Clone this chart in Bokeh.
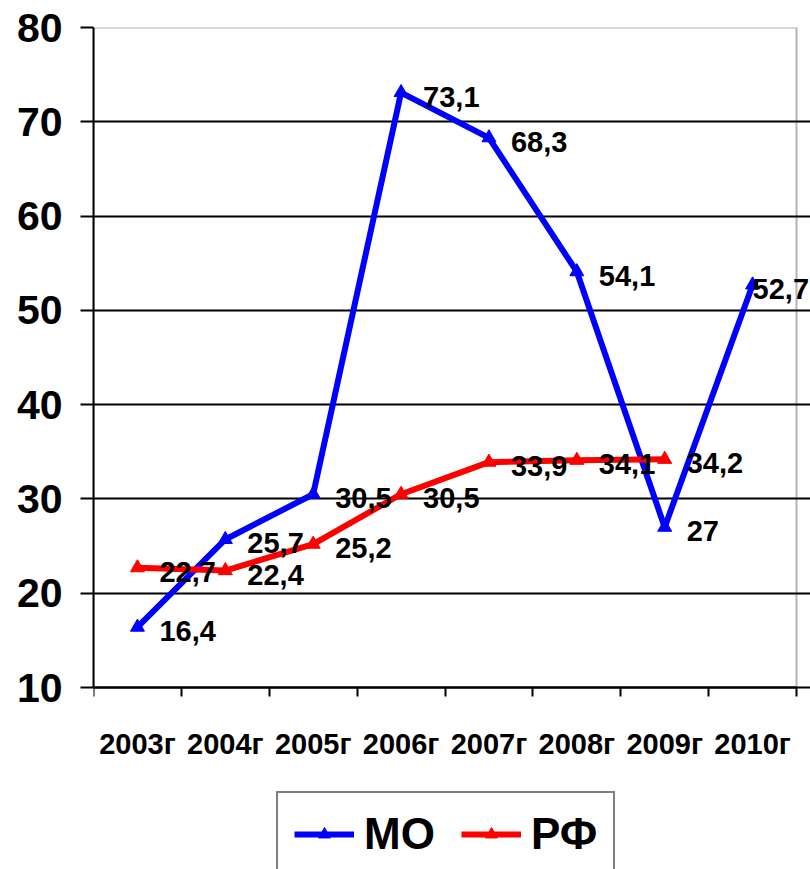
from bokeh.plotting import figure
from bokeh.models import (ColumnDataSource, FixedTicker, Range1d, Legend, LegendItem,
                          LinearAxis, BoxAnnotation)
from bokeh.core.properties import value
from bokeh.embed import file_html
from bokeh.resources import INLINE

years = ["2003г", "2004г", "2005г", "2006г", "2007г", "2008г", "2009г", "2010г"]
mo_values = [16.4, 25.7, 30.5, 73.1, 68.3, 54.1, 27, 52.7]
rf_values = [22.7, 22.4, 25.2, 30.5, 33.9, 34.1, 34.2]
y_ticks = [10, 20, 30, 40, 50, 60, 70, 80]

BLUE = "#0000ff"
RED = "#ff0000"
FONT = "Liberation Sans"

def fmt(v):
    return f"{v:g}".replace(".", ",")

centers = [i + 0.5 for i in range(len(years))]
bounds = list(range(len(years) + 1))
ppu_x = 703 / len(years)                      # pixels per category
ppu_y = 660 / (y_ticks[-1] - y_ticks[0])      # pixels per unit
bottom_space = 182                            # room below the plot area for labels + legend

p = figure(width=810, height=869, output_backend="svg", toolbar_location=None,
           x_axis_location=None,
           x_range=Range1d(0, len(years) + 14 / ppu_x),
           y_range=Range1d(y_ticks[0] - bottom_space / ppu_y, y_ticks[-1]),
           min_border_left=93, min_border_right=0, min_border_top=27, min_border_bottom=0)
p.outline_line_color = None
p.background_fill_color = "white"
p.border_fill_color = "white"

# x axis fixed at the bottom of the plot area
xa = LinearAxis(fixed_location=y_ticks[0])
xa.ticker = FixedTicker(ticks=centers, minor_ticks=bounds)
xa.major_label_overrides = {c: y for c, y in zip(centers, years)}
xa.bounds = (0, len(years))
xa.axis_line_color = "black"
xa.axis_line_width = 2
xa.major_tick_line_color = None
xa.major_tick_out = 0
xa.major_tick_in = 0
xa.minor_tick_line_color = "black"
xa.minor_tick_line_width = 2
xa.minor_tick_out = 9
xa.minor_tick_in = 0
xa.major_label_standoff = 31
xa.major_label_text_font = FONT
xa.major_label_text_font_style = "bold"
xa.major_label_text_font_size = "29px"
xa.major_label_text_color = "black"
p.add_layout(xa, "below")

ya = p.yaxis[0]
ya.ticker = FixedTicker(ticks=y_ticks, minor_ticks=[])
ya.bounds = (y_ticks[0], y_ticks[-1])
ya.axis_line_color = "black"
ya.axis_line_width = 2
ya.major_tick_line_color = "black"
ya.major_tick_line_width = 2
ya.major_tick_out = 13
ya.major_tick_in = 0
ya.minor_tick_line_color = None
ya.major_label_standoff = 18
ya.major_label_text_font = FONT
ya.major_label_text_font_style = "bold"
ya.major_label_text_font_size = "41px"
ya.major_label_text_color = "black"

p.xgrid.grid_line_color = None
p.ygrid.ticker = FixedTicker(ticks=y_ticks)
p.ygrid.grid_line_color = "black"
p.ygrid.grid_line_width = 2

# plot-area border (right edge)
p.add_layout(BoxAnnotation(left=0, right=len(years), bottom=y_ticks[0], top=y_ticks[-1],
                           fill_alpha=0, line_color="black", line_width=2))

# series
mo_src = ColumnDataSource(dict(x=centers, y=mo_values,
                               t=[fmt(v) for v in mo_values],
                               dx=[22] * (len(mo_values) - 1) + [0],
                               dy=[4] * len(mo_values)))
rf_src = ColumnDataSource(dict(x=centers[:len(rf_values)], y=rf_values,
                               t=[fmt(v) for v in rf_values],
                               dx=[22] * len(rf_values),
                               dy=[4] * len(rf_values)))

mo_line = p.line("x", "y", source=mo_src, line_color=BLUE, line_width=6, line_join="round")
mo_pts = p.scatter("x", "y", source=mo_src, marker="triangle", size=14,
                   fill_color=BLUE, line_color=BLUE)
rf_line = p.line("x", "y", source=rf_src, line_color=RED, line_width=6, line_join="round")
rf_pts = p.scatter("x", "y", source=rf_src, marker="triangle", size=14,
                   fill_color=RED, line_color=RED)

for src in (mo_src, rf_src):
    p.text("x", "y", text="t", source=src, x_offset="dx", y_offset="dy",
           text_align="left", text_baseline="middle",
           text_font=value(FONT), text_font_style="bold",
           text_font_size="29px", text_color="black")

legend = Legend(items=[LegendItem(label="МО", renderers=[mo_line, mo_pts]),
                       LegendItem(label="РФ", renderers=[rf_line, rf_pts])],
                orientation="horizontal", location=(183, -8),
                label_text_font=FONT, label_text_font_style="bold",
                label_text_font_size="44px", label_text_color="black",
                glyph_width=60, glyph_height=30, label_standoff=10, spacing=26,
                padding=16, margin=0, border_line_color="black", border_line_width=2,
                background_fill_color="white", background_fill_alpha=1)
p.add_layout(legend)

open("out.html", "w").write(file_html(p, INLINE))
